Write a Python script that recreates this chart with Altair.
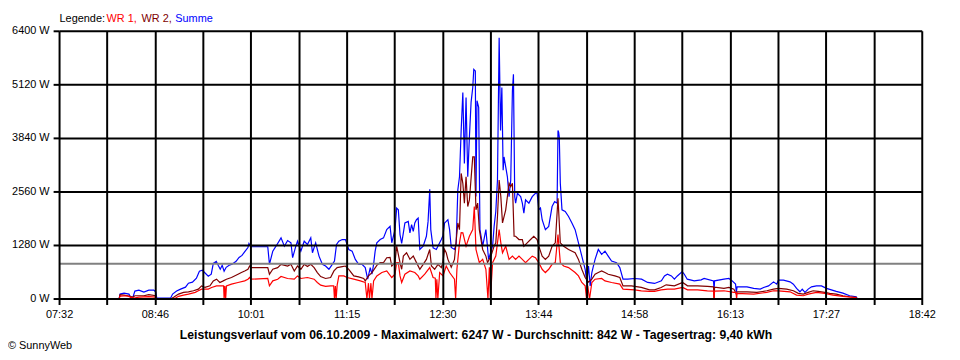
import json
import altair as alt
import pandas as pd

# ---------------- data (time = minutes since midnight, values in W) ----------------
tick_labels = ["07:32", "08:46", "10:01", "11:15", "12:30", "13:44", "14:58", "16:13", "17:27", "18:42"]
y_ticks = [0, 1280, 2560, 3840, 5120, 6400]
avg_w = 842
t_start, t_end = 452, 1122

series_names = ["WR 1", "WR 2", "Summe"]
series_colors = ["#ff0000", "#800000", "#0000ff"]

sum_t = [482.8, 498.2, 499.0, 502.1, 505.9, 507.4, 509.0, 510.5, 513.6, 517.5, 521.3, 525.2, 526.7, 527.5,
         538.3, 539.8, 542.9, 546.0, 549.8, 552.1, 555.2, 558.3, 560.6, 562.9, 565.2, 567.5, 569.8, 571.4,
         573.7, 575.2, 576.8, 578.3, 579.8, 581.4, 583.7, 586.0, 589.1, 591.4, 593.7, 596.0, 598.3, 599.1,
         600.6, 613.7, 615.0, 617.6, 620.1, 624.0, 626.6, 629.1, 631.7, 633.0, 635.5, 636.8, 639.4, 642.0,
         644.5, 647.1, 648.4, 650.9, 653.5, 656.1, 658.6, 661.2, 663.8, 665.5, 667.1, 668.9, 671.5, 674.0,
         676.6, 679.2, 681.7, 684.3, 686.9, 689.4, 691.3, 693.3, 694.6, 695.9, 697.1, 698.4, 701.0, 703.6,
         706.1, 707.4, 708.7, 710.0, 712.5, 713.8, 715.1, 716.4, 717.7, 719.0, 720.2, 722.8, 724.1, 725.4,
         726.7, 727.9, 729.2, 730.5, 731.8, 734.4, 736.9, 738.2, 739.5, 740.3, 742.1, 744.6, 747.2, 748.5,
         749.8, 751.0, 752.3, 753.6, 754.9, 756.2, 758.7, 760.0, 761.3, 762.6, 763.9, 765.2, 766.4, 767.7,
         769.0, 770.3, 771.6, 772.9, 773.7, 774.9, 775.4, 776.2, 777.5, 778.5, 780.6, 783.1, 785.2, 788.3,
         789.5, 790.8, 792.1, 793.4, 794.5, 795.5, 796.5, 797.2, 798.5, 799.8, 801.1, 802.4, 803.7, 804.5,
         805.5, 806.2, 807.6, 810.1, 811.4, 812.6, 813.9, 816.5, 819.1, 821.6, 822.9, 824.2, 825.5, 826.8,
         829.3, 831.9, 834.5, 836.5, 838.4, 839.1, 839.6, 840.1, 840.9, 842.2, 844.7, 847.3, 849.9, 852.4,
         855.0, 857.6, 860.2, 861.5, 862.8, 864.1, 865.4, 866.6, 867.9, 870.4, 873.0, 875.6, 878.1, 880.7,
         884.6, 887.1, 889.6, 893.3, 898.7, 904.0, 908.7, 914.1, 919.4, 921.8, 924.1, 927.2, 929.5, 931.8,
         935.6, 937.2, 939.5, 944.9, 950.3, 952.6, 959.9, 960.3, 960.7, 968.0, 971.8, 974.4, 977.0, 977.6,
         978.2, 985.9, 991.1, 996.2, 998.8, 1002.6, 1006.5, 1009.0, 1010.3, 1014.2, 1019.3, 1021.9, 1024.4,
         1027.0, 1028.8, 1030.9, 1033.4, 1036.0, 1039.8, 1043.7, 1047.6, 1051.4, 1055.2, 1060.4, 1065.6,
         1070.7, 1071.6]
sum_w = [0, 0, 118, 142, 118, 24, 47, 190, 213, 166, 213, 213, 166, 24,
         24, 118, 190, 237, 284, 379, 403, 498, 664, 687, 616, 545, 593, 853,
         901, 806, 711, 806, 664, 758, 806, 830, 901, 995, 1043, 1138, 1232, 1327,
         1250, 1250, 830, 1145, 1263, 1462, 1263, 1398, 1344, 988, 1263, 1382, 1145, 1382,
         1304, 1462, 1107, 1344, 1026, 830, 789, 711, 830, 908, 1304, 1382, 1422, 1422,
         1185, 1145, 948, 830, 830, 751, 474, 751, 593, 830, 1145, 1344, 1422, 1462,
         1659, 1699, 1737, 1344, 1659, 2173, 2133, 1541, 1327, 1581, 1818, 1856, 1581, 1778,
         1619, 1818, 1896, 1936, 1185, 1263, 1500, 1856, 2624, 1659, 1225, 1185, 1344, 1422,
         1517, 1818, 1856, 1896, 1659, 1232, 1185, 1304, 2607, 2922, 4029, 4937, 3240, 4818,
         2922, 3870, 4700, 5055, 5491, 5451, 2448, 4740, 4581, 1659, 1263, 1659, 948, 1263,
         1737, 2093, 2844, 6247, 4029, 5055, 3081, 3396, 3159, 2922, 2448, 2844, 4977, 5373,
         2448, 2292, 2529, 2448, 2292, 2055, 2370, 2292, 2448, 2529, 2529, 2133, 2173, 1896,
         1659, 1737, 2211, 2330, 2292, 4029, 3989, 3870, 2766, 2133, 2093, 1974, 1818, 1659,
         1344, 1026, 711, 396, 789, 315, 633, 789, 948, 1185, 1067, 1145, 1026, 908,
         870, 751, 474, 474, 491, 474, 396, 372, 434, 552, 593, 552, 474, 552,
         656, 593, 474, 434, 457, 491, 434, 197, 434, 474, 491, 434, 356, 166,
         292, 292, 254, 237, 277, 315, 410, 356, 450, 450, 410, 356, 254,
         173, 237, 159, 237, 292, 315, 315, 254, 220, 182, 142, 78,
         55, 0]

wr2_t = [482.8, 498.2, 499.0, 502.1, 505.9, 509.0, 510.5, 517.5, 521.3, 526.7, 527.5, 538.3, 540.6, 544.4,
         548.3, 552.1, 556.0, 559.8, 562.3, 565.0, 568.8, 571.4, 573.9, 576.5, 579.1, 581.6, 585.5, 590.6,
         593.2, 595.8, 598.3, 599.6, 600.6, 613.7, 615.0, 617.6, 621.4, 624.0, 629.1, 631.7, 634.3, 636.8,
         639.4, 642.0, 644.5, 647.1, 649.7, 652.2, 654.8, 658.6, 662.5, 665.1, 667.6, 671.5, 674.0, 676.6,
         680.5, 684.3, 688.2, 689.4, 692.0, 694.6, 698.4, 701.0, 703.6, 706.1, 708.7, 710.0, 712.5, 713.8,
         716.4, 717.7, 719.0, 721.5, 724.1, 726.7, 729.2, 731.8, 734.4, 736.9, 739.5, 740.8, 743.3, 745.9,
         748.5, 749.8, 751.0, 752.3, 753.6, 756.2, 758.7, 761.3, 762.6, 763.9, 765.2, 766.4, 767.7, 769.0,
         770.3, 772.9, 774.1, 775.4, 776.7, 778.0, 780.6, 783.1, 784.4, 787.0, 789.5, 790.8, 792.1, 793.4,
         794.7, 796.0, 798.5, 801.1, 802.4, 803.7, 805.0, 806.2, 808.8, 811.4, 812.6, 815.2, 817.8, 820.3,
         822.9, 824.2, 826.8, 829.3, 831.9, 834.5, 837.0, 839.1, 840.9, 843.5, 847.3, 852.4, 855.0, 857.6,
         860.2, 862.8, 865.4, 867.9, 870.4, 873.0, 875.6, 878.1, 883.3, 887.1, 889.6, 896.1, 903.8, 910.2,
         914.1, 919.2, 923.1, 929.5, 935.9, 939.7, 947.5, 955.1, 959.9, 960.3, 960.7, 968.0, 971.8, 975.7,
         977.6, 978.2, 985.9, 993.6, 1001.3, 1006.5, 1010.3, 1016.7, 1021.9, 1025.7, 1029.6, 1033.4, 1037.3,
         1041.1, 1046.3, 1050.1, 1055.2, 1060.4, 1065.6, 1070.7, 1071.6]
wr2_w = [0, 0, 107, 95, 71, 47, 78, 78, 107, 78, 0, 0, 40, 118,
         159, 173, 197, 237, 315, 277, 315, 434, 474, 396, 434, 474, 514, 593,
         633, 671, 711, 789, 751, 751, 593, 711, 751, 830, 789, 830, 671, 789,
         711, 830, 775, 830, 751, 633, 538, 491, 514, 671, 751, 775, 789, 711,
         552, 529, 491, 434, 552, 633, 806, 870, 870, 988, 995, 789, 870, 1263,
         870, 711, 1026, 1107, 948, 1026, 870, 711, 830, 948, 1185, 789, 711, 830,
         751, 901, 1185, 1107, 948, 758, 948, 1818, 1659, 3003, 2766, 2292, 2922, 2211,
         2370, 3396, 3396, 2133, 2292, 1659, 1185, 1026, 870, 1026, 1263, 1344, 1974, 2844,
         2448, 1818, 2133, 2766, 2685, 2766, 1500, 1500, 1422, 1422, 1263, 1344, 1422, 1500,
         1422, 1263, 1026, 948, 1026, 1263, 1344, 2410, 1344, 1263, 1185, 1107, 948, 711,
         514, 403, 474, 593, 633, 671, 633, 593, 552, 514, 315, 315, 277, 220,
         220, 277, 339, 315, 396, 315, 315, 301, 292, 0, 284, 254, 277, 237,
         118, 173, 173, 159, 197, 237, 254, 237, 197, 135, 118, 159, 197,
         182, 159, 135, 118, 78, 55, 40, 0]

wr1_t = [482.8, 498.2, 499.0, 504.4, 507.4, 509.8, 513.6, 521.3, 526.7, 527.5, 538.3, 542.1, 544.4, 548.3,
         552.1, 557.4, 559.8, 562.3, 567.5, 570.1, 573.9, 577.7, 579.4, 579.8, 580.4, 581.0, 581.6, 585.5,
         590.6, 595.8, 598.3, 599.6, 600.6, 613.7, 615.0, 617.6, 621.4, 624.0, 629.1, 634.3, 636.8, 639.4,
         644.5, 649.7, 652.2, 654.8, 658.6, 662.5, 664.9, 665.5, 666.2, 666.8, 667.6, 668.9, 672.8, 675.3,
         680.5, 685.6, 689.4, 690.7, 691.9, 692.7, 693.8, 694.6, 695.9, 698.4, 702.3, 706.1, 710.0, 712.5,
         713.8, 715.1, 716.4, 717.7, 720.2, 724.1, 727.9, 730.5, 731.8, 735.6, 739.5, 742.1, 743.8, 744.3,
         745.0, 745.8, 747.2, 749.8, 752.3, 754.9, 758.7, 759.6, 760.6, 762.6, 763.9, 765.2, 767.7, 770.3,
         772.9, 774.1, 775.4, 778.0, 780.6, 783.1, 784.7, 785.8, 786.6, 788.3, 790.8, 793.4, 794.7, 796.0,
         798.5, 801.1, 803.7, 806.2, 808.8, 811.4, 813.9, 816.5, 819.1, 821.6, 824.2, 826.8, 829.3, 831.9,
         834.5, 837.0, 839.1, 840.9, 843.5, 847.3, 852.4, 855.0, 857.6, 860.2, 861.3, 862.2, 863.6, 865.4,
         867.9, 873.0, 875.6, 880.7, 887.1, 889.6, 898.7, 903.8, 910.2, 914.1, 919.2, 924.3, 929.5, 935.9,
         939.7, 947.5, 955.1, 959.9, 960.3, 960.7, 968.0, 975.7, 977.4, 977.8, 978.2, 991.1, 1001.3, 1006.5,
         1010.3, 1019.3, 1024.4, 1029.6, 1033.4, 1039.8, 1046.3, 1052.7, 1060.4, 1070.7, 1071.6]
wr1_w = [0, 0, 71, 78, 40, 24, 47, 59, 47, 0, 0, 24, 64, 95,
         118, 159, 197, 237, 237, 277, 315, 315, 315, 0, 308, 0, 315, 356,
         396, 434, 474, 514, 474, 491, 315, 434, 474, 538, 491, 474, 552, 491,
         514, 474, 396, 332, 301, 315, 315, 0, 308, 0, 332, 552, 552, 514,
         474, 434, 396, 0, 379, 0, 379, 0, 434, 552, 633, 671, 514, 593,
         870, 870, 552, 396, 593, 671, 633, 552, 474, 593, 751, 514, 500, 0,
         474, 0, 633, 552, 789, 633, 474, 0, 711, 1344, 1588, 1581, 1263, 1500,
         1659, 2211, 1185, 870, 948, 711, 0, 758, 0, 870, 1026, 1659, 1344, 1107,
         1263, 948, 1026, 948, 1026, 948, 870, 948, 1026, 988, 870, 711, 633, 711,
         830, 870, 1541, 870, 789, 751, 633, 552, 396, 315, 0, 315, 0, 396,
         474, 491, 434, 396, 356, 237, 220, 197, 182, 182, 220, 237, 237, 277,
         220, 220, 197, 190, 0, 190, 197, 159, 159, 0, 135, 118, 159, 197,
         197, 173, 95, 78, 118, 159, 135, 95, 64, 31, 0]

# ---------------- chart ----------------
FONT = "Liberation Sans"
step = (t_end - t_start) / 18
grid_vals = [t_start + i * step for i in range(19)]
idx = f"round((datum.value - {t_start}) / {step})"
x_label_expr = f"({idx} % 2 == 0) ? {json.dumps(tick_labels)}[{idx} / 2] : ''"

axis_style = dict(grid=True, gridColor="#000000", gridWidth=2, gridOpacity=1, domain=False,
                  tickColor="#000000", tickWidth=2, tickSize=6, labelFont=FONT, labelFontSize=11,
                  labelColor="#000000", labelPadding=4, labelFlush=False, labelOverlap=False,
                  title=None, zindex=1, translate=0)

x_enc = alt.X(
    "t:Q",
    scale=alt.Scale(domain=[t_start, t_end], nice=False, zero=False),
    axis=alt.Axis(values=grid_vals, labelExpr=x_label_expr, **axis_style),
)
y_enc = alt.Y(
    "w:Q",
    scale=alt.Scale(domain=[0, 6400], nice=False),
    axis=alt.Axis(values=y_ticks, labelExpr="datum.value + ' W'", **axis_style),
)


def series_layer(ts, ws, color):
    df = pd.DataFrame({"t": ts, "w": ws})
    return alt.Chart(df).mark_line(color=color, strokeWidth=1.2, interpolate="linear").encode(x=x_enc, y=y_enc)


sum_layer = series_layer(sum_t, sum_w, series_colors[2])
wr2_layer = series_layer(wr2_t, wr2_w, series_colors[1])
wr1_layer = series_layer(wr1_t, wr1_w, series_colors[0])

avg_layer = alt.Chart(pd.DataFrame({"w": [avg_w]})).mark_rule(color="#808080", strokeWidth=2).encode(
    y=y_enc
)

one = pd.DataFrame({"k": [0]})


def text_layer(txt, x, y, color="#000000", align="left", bold=False, size=11):
    return alt.Chart(one).mark_text(
        text=txt, align=align, baseline="alphabetic", font=FONT, fontSize=size,
        fontWeight="bold" if bold else "normal", color=color,
    ).encode(x=alt.value(x), y=alt.value(y))


legend = [
    text_layer("Legende:", 0, -9),
    text_layer(series_names[0] + ",", 47.3, -9, series_colors[0]),
    text_layer(series_names[1] + ",", 82.7, -9, series_colors[1]),
    text_layer(series_names[2], 116.7, -9, series_colors[2]),
]
title = text_layer(
    "Leistungsverlauf vom 06.10.2009 - Maximalwert: 6247 W - Durchschnitt: 842 W - Tagesertrag: 9,40 kWh",
    420, 310.7, align="center", bold=True, size=12.3,
)
copyright_txt = text_layer("© SunnyWeb", -52, 320.5)

chart = alt.layer(sum_layer, wr2_layer, wr1_layer, avg_layer, *legend, title, copyright_txt).properties(
    width=870, height=270,
    autosize=alt.AutoSizeParams(type="none"),
    padding={"left": 52, "top": 22, "right": 30, "bottom": 60},
    background="#ffffff",
).configure_view(stroke=None)

chart.save("out.html", embed_options={"renderer": "svg", "actions": False})
